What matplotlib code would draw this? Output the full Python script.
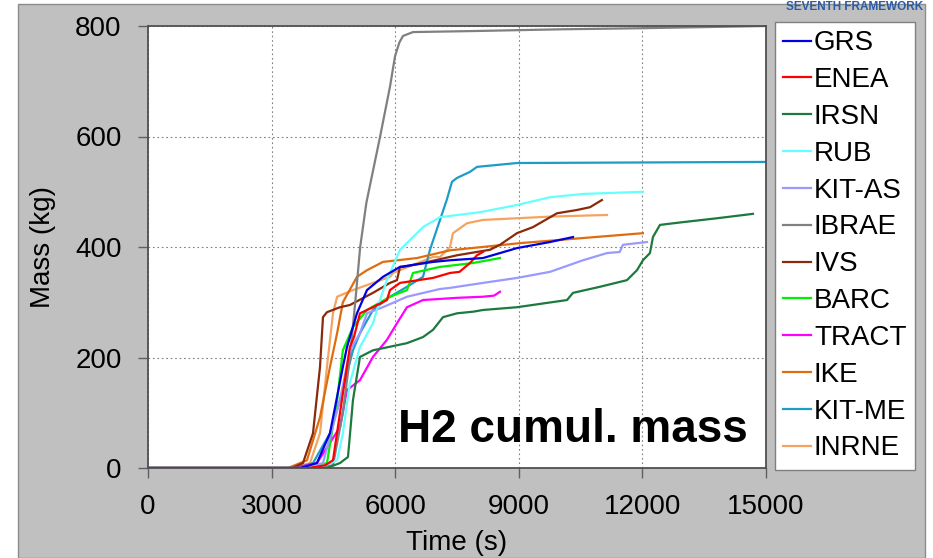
import matplotlib
matplotlib.use("Agg")
import matplotlib.pyplot as plt
from matplotlib.patches import Rectangle

plt.rcParams['font.family'] = ['Liberation Sans', 'DejaVu Sans']

# time (s) and cumulative H2 mass (kg)
labels = ["GRS", "ENEA", "IRSN", "RUB", "KIT-AS", "IBRAE", "IVS", "BARC",
          "TRACT", "IKE", "KIT-ME", "INRNE"]
colors = ["#0000e0", "#ff0000", "#1b7a3e", "#66ffff", "#9999ff", "#808080",
          "#8b2a0a", "#00ee00", "#ff00ff", "#e06c10", "#1e9cc8", "#f4a460"]

grs_t = [0, 3700, 4100, 4417, 4730, 4830, 5072, 5315, 5703, 6116, 6917, 7330, 8130, 8543, 8955, 9756, 10315]
grs_m = [0, 0, 9, 63, 183, 219, 280, 322, 346, 364, 373, 376, 380, 389, 398, 409, 418]

enea_t = [0, 3900, 4300, 4490, 4700, 4900, 5000, 5145, 5460, 5800, 5873, 6116, 6917, 7330, 7560, 7815, 7985, 8130]
enea_m = [0, 0, 5, 14, 120, 219, 237, 280, 291, 304, 322, 335, 344, 353, 355, 371, 385, 391]

irsn_t = [0, 4344, 4660, 4854, 4975, 5145, 5460, 6286, 6675, 6917, 7160, 7500, 7900, 8130, 8955, 10170,
          10315, 10970, 11625, 11868, 12013, 12183, 12256, 12426, 12984, 13809, 14683]
irsn_m = [0, 0, 9, 20, 123, 201, 213, 226, 237, 250, 273, 280, 283, 286, 291, 304,
          317, 328, 340, 358, 376, 389, 418, 440, 445, 452, 460]

rub_t = [0, 3800, 4300, 4590, 4730, 4900, 5145, 5460, 5630, 5800, 6116, 6432, 6675, 7087, 8058, 8955, 9756, 10557, 12013]
rub_m = [0, 0, 5, 14, 63, 154, 219, 262, 304, 340, 395, 418, 436, 454, 463, 476, 490, 496, 500]

kitas_t = [0, 3800, 4247, 4660, 4900, 5145, 5315, 5700, 6286, 7087, 7330, 8130, 8955, 9756, 10557, 11140, 11450, 11528, 12110]
kitas_m = [0, 0, 9, 123, 213, 244, 280, 291, 310, 324, 326, 335, 344, 355, 376, 389, 391, 404, 409]

ibrae_t = [0, 4000, 4490, 4730, 4900, 5030, 5150, 5300, 5631, 5873, 5995, 6100, 6189, 6432, 8000, 10000, 12000, 15000]
ibrae_m = [0, 0, 5, 100, 200, 300, 400, 480, 599, 690, 745, 770, 782, 789, 791, 794, 796, 800]

ivs_t = [0, 3500, 3762, 4005, 4175, 4247, 4344, 4660, 4900, 5460, 5873, 6043, 6116, 6189, 6675, 7500,
         8300, 8543, 8955, 9344, 9926, 10412, 10727, 11018]
ivs_m = [0, 0, 9, 63, 183, 273, 282, 291, 295, 317, 335, 340, 364, 364, 371, 385,
         395, 404, 425, 436, 461, 467, 472, 485]

barc_t = [0, 3900, 4344, 4590, 4730, 4975, 5315, 5873, 6286, 6432, 7087, 7888, 8543]
barc_m = [0, 0, 9, 123, 213, 255, 286, 310, 322, 353, 364, 371, 380]

tract_t = [0, 3500, 3689, 4102, 4660, 4830, 5145, 5460, 5800, 6043, 6286, 6675, 7500, 8130, 8400, 8543]
tract_m = [0, 0, 2, 9, 74, 141, 159, 201, 232, 262, 291, 304, 308, 310, 312, 319]

ike_t = [0, 3400, 3859, 4175, 4417, 4590, 4730, 5072, 5315, 5703, 6529, 7330, 9028, 12013]
ike_m = [0, 0, 14, 92, 183, 244, 300, 346, 358, 373, 380, 394, 407, 425]

kitme_t = [0, 3600, 4005, 4417, 4660, 4975, 5145, 5460, 5873, 6286, 6675, 6844, 7087, 7250, 7378, 7500,
           7815, 7985, 8955, 15000]
kitme_m = [0, 0, 9, 63, 123, 213, 244, 286, 310, 328, 346, 395, 449, 485, 518, 525,
           536, 545, 552, 554]

inrne_t = [0, 3500, 3932, 4175, 4344, 4490, 4590, 4975, 5873, 5946, 6917, 7087, 7330, 7403, 7742, 8130,
           8955, 9756, 11140]
inrne_m = [0, 0, 9, 63, 183, 280, 310, 322, 346, 353, 382, 382, 400, 425, 443, 449,
           452, 455, 458]

series = [(grs_t, grs_m), (enea_t, enea_m), (irsn_t, irsn_m), (rub_t, rub_m),
          (kitas_t, kitas_m), (ibrae_t, ibrae_m), (ivs_t, ivs_m), (barc_t, barc_m),
          (tract_t, tract_m), (ike_t, ike_m), (kitme_t, kitme_m), (inrne_t, inrne_m)]

x_ticks = [0, 3000, 6000, 9000, 12000, 15000]
y_ticks = [0, 200, 400, 600, 800]


def main():
    fig = plt.figure(figsize=(9.33, 5.58), dpi=100, facecolor="white")
    # gray slide panel behind the chart
    fig.patches.append(Rectangle((18 / 933, 0), 907 / 933, 554 / 558, transform=fig.transFigure,
                                 facecolor="#c0c0c0", edgecolor="#8c8c8c", linewidth=1, zorder=-10))
    fig.text(0.99, 0.999, "SEVENTH FRAMEWORK", color="#2a5ca8", fontsize=8.5,
             fontweight="bold", ha="right", va="top")

    ax = fig.add_axes([148 / 933, 1 - 468 / 558, 618 / 933, 442 / 558])
    ax.set_facecolor("white")

    # draw in reverse so GRS ends on top
    for (t, m), lab, c in list(zip(series, labels, colors))[::-1]:
        ax.plot(t, m, color=c, lw=1.6, label=lab)

    ax.set_xlim(0, 15000)
    ax.set_ylim(0, 800)
    ax.set_xticks(x_ticks)
    ax.set_yticks(y_ticks)
    ax.tick_params(labelsize=20, length=7, width=1, color="#606060", pad=12)
    ax.grid(True, color="#808080", linestyle=(0, (1.5, 2.5)), linewidth=0.8)
    for s in ax.spines.values():
        s.set_color("#505050")
        s.set_linewidth(1.3)

    ax.set_xlabel("Time (s)", fontsize=20, labelpad=7)
    ax.set_ylabel("Mass (kg)", fontsize=20, labelpad=14)

    ax.text(0.687, 0.085, "H2 cumul. mass", transform=ax.transAxes, fontsize=33,
            fontweight="bold", ha="center", va="center")

    handles, labs = ax.get_legend_handles_labels()
    leg = fig.legend(handles[::-1], labs[::-1], loc="upper left",
                     bbox_to_anchor=(775 / 933, 1 - 22 / 558), fontsize=20, frameon=True,
                     fancybox=False, handlelength=1.0, handletextpad=0.1,
                     labelspacing=0.39, borderpad=0.3, borderaxespad=0,
                     facecolor="white", framealpha=1)
    leg.get_frame().set_edgecolor("#808080")
    leg.get_frame().set_linewidth(1)

    fig.savefig("out.png", dpi=100, facecolor="white")


if __name__ == "__main__":
    main()
